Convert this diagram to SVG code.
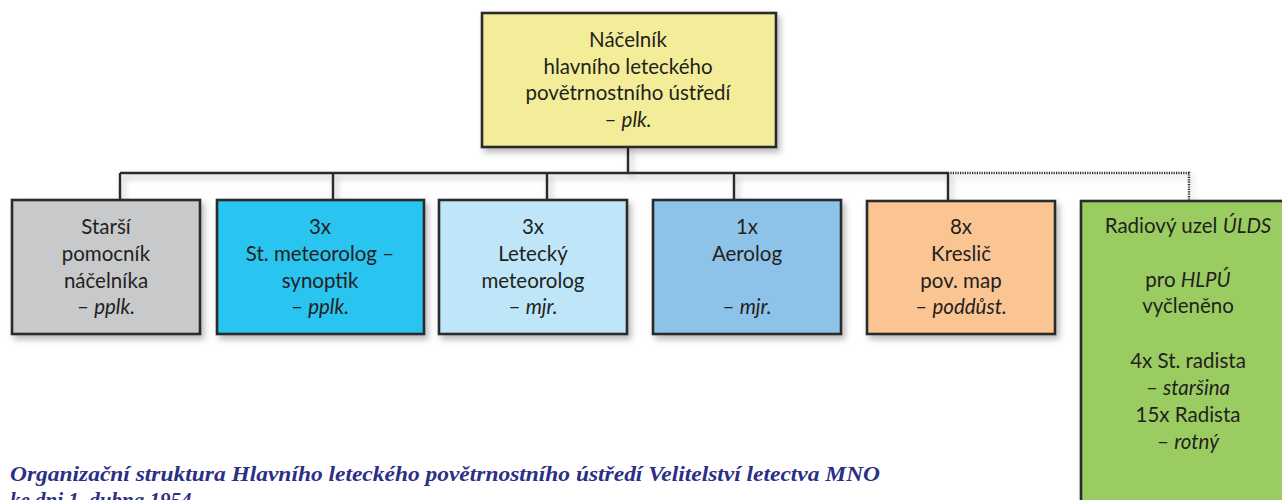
<svg xmlns="http://www.w3.org/2000/svg" width="1282" height="500" viewBox="0 0 1282 500">
  <defs>
    <filter id="shadow" x="-10%" y="-10%" width="130%" height="130%">
      <feDropShadow dx="3" dy="4" stdDeviation="3" flood-color="#000" flood-opacity="0.28"/>
    </filter>
    <style>
      .box { stroke: #2b2b2b; stroke-width: 2.6; filter: url(#shadow); }
      .lbl { font-family: Lato, "Open Sans", "Liberation Sans", sans-serif; font-size: 20.5px; fill: #231f20; text-anchor: middle; }
      .it { font-style: italic; }
      .wire { fill: none; stroke: #2b2b2b; stroke-width: 2.4; }
      .dot { fill: none; stroke: #2b2b2b; stroke-width: 2.4; stroke-dasharray: 1.2 1.2; }
      .cap { font-family: "Liberation Serif", "DejaVu Serif", serif; font-style: italic; font-weight: bold; font-size: 21px; fill: #2b2f86; }
    </style>
  </defs>
  <rect width="1282" height="500" fill="#ffffff"/>

  <!-- connectors -->
  <g id="connectors" filter="url(#shadow)">
    <path class="wire" d="M628 147 V173 M120 173 H948 M120 173 V200 M333 173 V200 M547 173 V200 M734 173 V200 M948 173 V201"/>
    <path class="dot" d="M948 173 H1189 V201"/>
  </g>

  <!-- head of office -->
  <g id="chief">
    <rect class="box" x="482" y="13" width="294" height="134" fill="#f3ed99"/>
    <text class="lbl" x="628" y="47">Náčelník</text>
    <text class="lbl" x="628" y="74">hlavního leteckého</text>
    <text class="lbl" x="628" y="100">povětrnostního ústředí</text>
    <text class="lbl" x="628" y="127">– <tspan class="it">plk.</tspan></text>
  </g>

  <g id="assistant">
    <rect class="box" x="12" y="200" width="188" height="134" fill="#c8c9cb"/>
    <text class="lbl" x="106" y="234">Starší</text>
    <text class="lbl" x="106" y="261">pomocník</text>
    <text class="lbl" x="106" y="288">náčelníka</text>
    <text class="lbl" x="106" y="314">– <tspan class="it">pplk.</tspan></text>
  </g>

  <g id="synoptic">
    <rect class="box" x="217" y="200" width="207" height="134" fill="#29c4f1"/>
    <text class="lbl" x="320" y="234">3x</text>
    <text class="lbl" x="320" y="261">St. meteorolog –</text>
    <text class="lbl" x="320" y="288">synoptik</text>
    <text class="lbl" x="320" y="314">– <tspan class="it">pplk.</tspan></text>
  </g>

  <g id="aviation-meteorologist">
    <rect class="box" x="439" y="200" width="188" height="134" fill="#bee5f8"/>
    <text class="lbl" x="533" y="234">3x</text>
    <text class="lbl" x="533" y="261">Letecký</text>
    <text class="lbl" x="533" y="288">meteorolog</text>
    <text class="lbl" x="533" y="314">– <tspan class="it">mjr.</tspan></text>
  </g>

  <g id="aerologist">
    <rect class="box" x="653" y="200" width="188" height="134" fill="#8ec3e9"/>
    <text class="lbl" x="747" y="234">1x</text>
    <text class="lbl" x="747" y="261">Aerolog</text>
    <text class="lbl" x="747" y="314">– <tspan class="it">mjr.</tspan></text>
  </g>

  <g id="draftsman">
    <rect class="box" x="867" y="201" width="188" height="133" fill="#fbc593"/>
    <text class="lbl" x="961" y="234">8x</text>
    <text class="lbl" x="961" y="261">Kreslič</text>
    <text class="lbl" x="961" y="288">pov. map</text>
    <text class="lbl" x="961" y="314">– <tspan class="it">poddůst.</tspan></text>
  </g>

  <g id="radio-node">
    <rect class="box" x="1081" y="201" width="220" height="320" fill="#9bcc62"/>
    <text class="lbl" x="1188" y="233">Radiový uzel <tspan class="it">ÚLDS</tspan></text>
    <text class="lbl" x="1188" y="287">pro <tspan class="it">HLPÚ</tspan></text>
    <text class="lbl" x="1188" y="313">vyčleněno</text>
    <text class="lbl" x="1188" y="368">4x St. radista</text>
    <text class="lbl" x="1188" y="395">– <tspan class="it">staršina</tspan></text>
    <text class="lbl" x="1188" y="422">15x Radista</text>
    <text class="lbl" x="1188" y="449">– <tspan class="it">rotný</tspan></text>
  </g>

  <!-- caption -->
  <g id="caption">
    <text class="cap" x="10" y="481" textLength="870" lengthAdjust="spacingAndGlyphs">Organizační struktura Hlavního leteckého povětrnostního ústředí Velitelství letectva MNO</text>
    <text class="cap" x="10" y="507">ke dni 1. dubna 1954</text>
  </g>
</svg>
